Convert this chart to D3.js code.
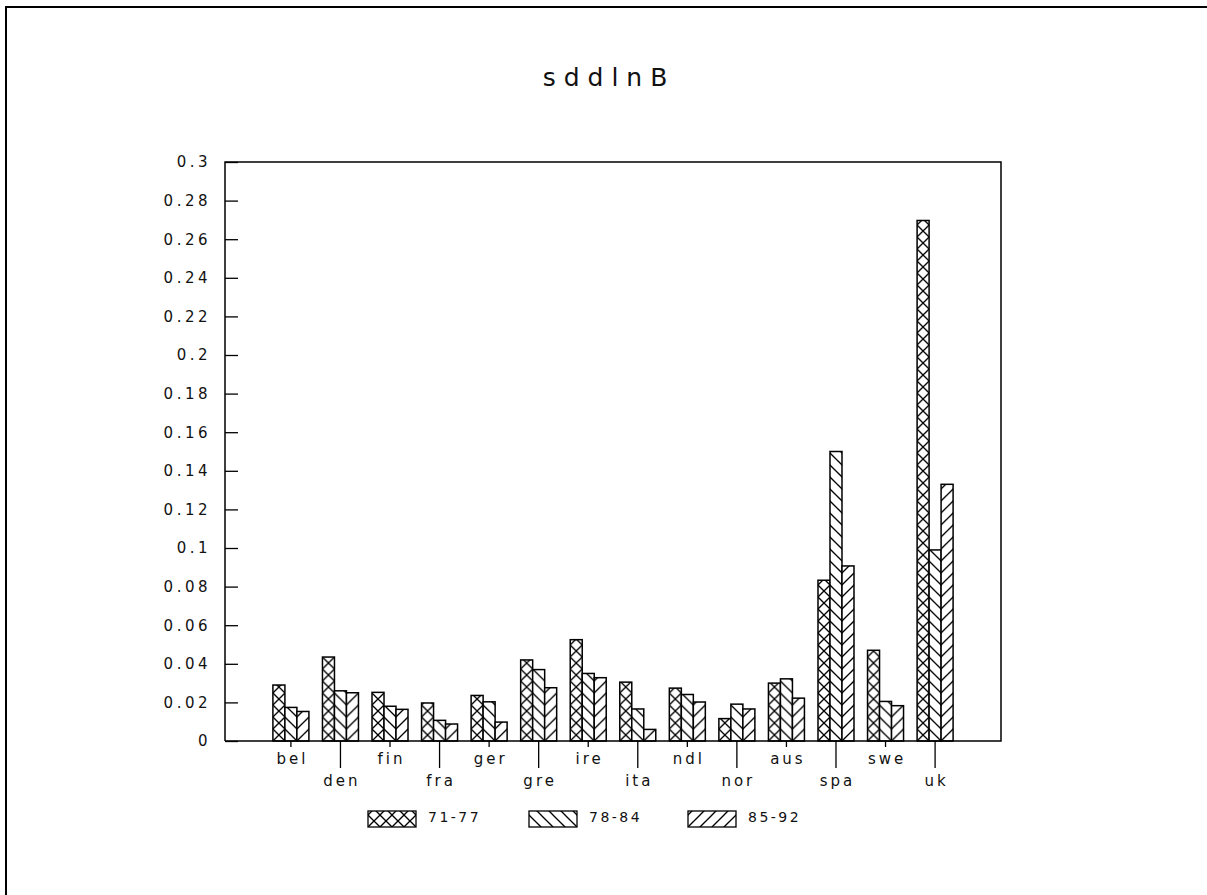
<!DOCTYPE html>
<html>
<head>
<meta charset="utf-8">
<script src="https://cdn.jsdelivr.net/npm/d3@7"></script>
<style>
    body { margin: 0; background: #fff; }
    text { font-family: "DejaVu Sans", "Liberation Sans", sans-serif; fill: #111; }
</style>
</head>
<body>
<div id="chart-container"></div>
<script>

var countries = ["bel", "den", "fin", "fra", "ger", "gre", "ire", "ita", "ndl", "nor", "aus", "spa", "swe", "uk"];
var periods = ["71-77", "78-84", "85-92"];
var p7177 = [0.029, 0.0435, 0.0252, 0.0197, 0.0236, 0.042, 0.0525, 0.0305, 0.0274, 0.0116, 0.030, 0.0833, 0.047, 0.2697];
var p7884 = [0.0174, 0.026, 0.018, 0.0107, 0.0203, 0.037, 0.035, 0.0166, 0.0241, 0.0191, 0.0322, 0.150, 0.0205, 0.099];
var p8592 = [0.0153, 0.025, 0.0164, 0.0088, 0.0098, 0.0276, 0.0328, 0.006, 0.0202, 0.0166, 0.0222, 0.0907, 0.0183, 0.133];
var yTicks = [0, 0.02, 0.04, 0.06, 0.08, 0.1, 0.12, 0.14, 0.16, 0.18, 0.2, 0.22, 0.24, 0.26, 0.28, 0.3];
var title = "sddlnB";

var series = [p7177, p7884, p8592];
var patternIds = ["cross", "back", "fwd"];

var width = 1207, height = 895;
var plot = { left: 225, right: 1001, top: 162, bottom: 741 };
var barW = 12;

var svg = d3.select("#chart-container")
    .append("svg")
    .attr("width", width)
    .attr("height", height);

// hatch patterns
var defs = svg.append("defs");
var addPattern = function (id, lines) {
    var p = defs.append("pattern")
        .attr("id", id)
        .attr("patternUnits", "userSpaceOnUse")
        .attr("width", 12)
        .attr("height", 12);
    p.append("rect").attr("width", 12).attr("height", 12).attr("fill", "#fff");
    lines.forEach(function (l) {
        p.append("line")
            .attr("x1", l[0]).attr("y1", l[1])
            .attr("x2", l[2]).attr("y2", l[3])
            .attr("stroke", "#000")
            .attr("stroke-width", 1.3);
    });
};
addPattern("cross", [[0, 0, 12, 12], [12, 0, 0, 12]]);
addPattern("back", [[0, 0, 12, 12], [-6, 6, 6, 18], [6, -6, 18, 6]]);
addPattern("fwd", [[12, 0, 0, 12], [18, 6, 6, 18], [6, -6, -6, 6]]);

// outer frame
svg.append("rect")
    .attr("x", 6).attr("y", 7)
    .attr("width", width + 10).attr("height", height + 10)
    .attr("fill", "none")
    .attr("stroke", "#000")
    .attr("stroke-width", 2);

svg.append("text")
    .attr("x", 609)
    .attr("y", 86)
    .attr("text-anchor", "middle")
    .style("font-size", "25px")
    .style("letter-spacing", "8px")
    .text(title);

var xScale = d3.scalePoint()
    .domain(countries)
    .range([plot.left, plot.right])
    .padding(1.33);

var yScale = d3.scaleLinear()
    .domain([0, 0.3])
    .range([plot.bottom, plot.top]);

// bars
countries.forEach(function (c, ci) {
    var cx = xScale(c);
    series.forEach(function (vals, si) {
        var h = plot.bottom - yScale(vals[ci]);
        var g = svg.append("g")
            .attr("transform", "translate(" + (cx - 1.5 * barW + si * barW) + "," + plot.bottom + ")");
        g.append("rect")
            .attr("x", 0)
            .attr("y", -h)
            .attr("width", barW)
            .attr("height", h)
            .attr("fill", "url(#" + patternIds[si] + ")")
            .attr("stroke", "#000")
            .attr("stroke-width", 1.5);
    });
});

// plot frame
svg.append("path")
    .attr("d", "M" + plot.left + "," + plot.bottom + "V" + plot.top + "H" + plot.right + "V" + plot.bottom + "H" + plot.left)
    .attr("fill", "none")
    .attr("stroke", "#000")
    .attr("stroke-width", 1.5);

// y axis (ticks inside)
var yAxis = d3.axisRight(yScale)
    .tickValues(yTicks)
    .tickSize(13)
    .tickFormat(function (d) { return String(+d.toFixed(2)); });

var yg = svg.append("g")
    .attr("transform", "translate(" + plot.left + ",0)")
    .call(yAxis);
yg.select(".domain").remove();
yg.selectAll(".tick line").attr("stroke", "#000").attr("stroke-width", 1.3);
yg.selectAll(".tick text")
    .attr("x", -14)
    .attr("text-anchor", "end")
    .attr("fill", "#111")
    .style("font-size", "15px")
    .style("letter-spacing", "3.5px")
    .style("font-family", "'DejaVu Sans', sans-serif");

// x axis, staggered labels
var xg = svg.append("g");
xg.selectAll("line")
    .data(countries)
    .enter()
    .append("line")
    .attr("x1", function (d) { return xScale(d); })
    .attr("x2", function (d) { return xScale(d); })
    .attr("y1", plot.bottom)
    .attr("y2", function (d, i) { return plot.bottom + (i % 2 ? 27 : 6); })
    .attr("stroke", "#000")
    .attr("stroke-width", 1.3);
xg.selectAll("text")
    .data(countries)
    .enter()
    .append("text")
    .attr("x", function (d) { return xScale(d) + 1.5; })
    .attr("y", function (d, i) { return i % 2 ? 786 : 764; })
    .attr("text-anchor", "middle")
    .style("font-size", "15px")
    .style("letter-spacing", "3px")
    .text(function (d) { return d; });

// legend
var legendX = [368, 529, 688];
periods.forEach(function (p, i) {
    var g = svg.append("g")
        .attr("transform", "translate(" + legendX[i] + ",827)");
    g.append("rect")
        .attr("x", 0).attr("y", -16)
        .attr("width", 48).attr("height", 16)
        .attr("fill", "url(#" + patternIds[i] + ")")
        .attr("stroke", "#000")
        .attr("stroke-width", 1.3);
    g.append("text")
        .attr("x", 60)
        .attr("y", -5)
        .style("font-size", "14px")
        .style("letter-spacing", "2.5px")
        .text(p);
});

</script>
</body>
</html>
